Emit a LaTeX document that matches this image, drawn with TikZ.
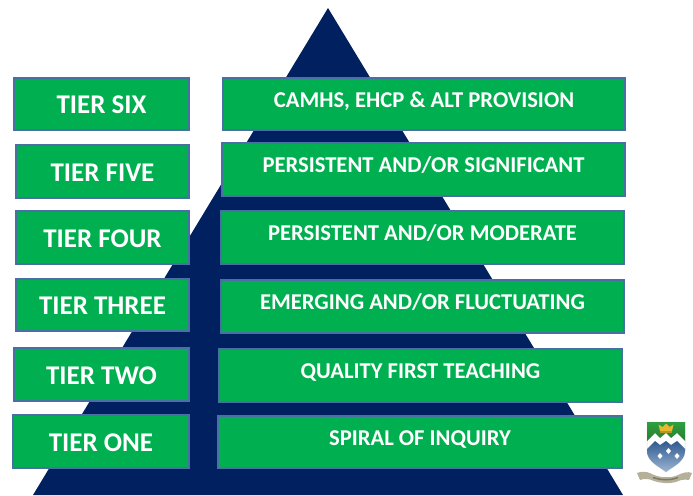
\documentclass[tikz,border=0pt]{standalone}
\usepackage{fontspec}
\setmainfont{Carlito}
\definecolor{navy}{HTML}{002060}
\definecolor{tiergreen}{HTML}{00B050}
\definecolor{tieredge}{HTML}{4A6FA5}
\definecolor{crestgreen}{HTML}{2F9E3F}
\definecolor{crestblue}{HTML}{2F5A90}
\definecolor{crestbluelight}{HTML}{9DB6D2}
\definecolor{crestgold}{HTML}{E6B82E}
\definecolor{cresttan}{HTML}{B5B09A}
\definecolor{cresttandark}{HTML}{7F7A66}
\tikzset{
  tierbox/.style={draw=tieredge,line width=2pt,fill=tiergreen,inner sep=0pt,text=white,font=\bfseries},
  leftbox/.style={tierbox,font=\fontsize{27}{27}\bfseries\selectfont},
  rightbox/.style={tierbox,font=\fontsize{22.6}{22.6}\bfseries\selectfont},
}
\newcommand{\boxat}[7]{%
  \node[#6,minimum width=#4pt-#2pt-1pt,minimum height=#5pt-#3pt-1pt,anchor=north west] (#1) at (#2,#3) {#7};}
\newcommand{\lefttxt}[1]{\raisebox{-9.5pt}[0pt][0pt]{#1}}
\newcommand{\righttxt}[1]{\raisebox{-3pt}[0pt][0pt]{#1}}
\begin{document}
\begin{tikzpicture}[x=1pt,y=-1pt]
\useasboundingbox (0,0) rectangle (693,495);
\fill[white] (0,0) rectangle (693,495);
\coordinate (apex) at (328,8);
\coordinate (bl) at (33,495);
\coordinate (br) at (623,495);
\fill[navy] (apex) -- (bl) -- (br) -- cycle;
\boxat{l6}{13}{77}{189}{130}{leftbox}{\lefttxt{TIER SIX}}
\boxat{l5}{15}{144}{189}{198}{leftbox}{\lefttxt{TIER FIVE}}
\boxat{l4}{15}{210}{189}{264}{leftbox}{\lefttxt{TIER FOUR}}
\boxat{l3}{15}{278}{189}{331}{leftbox}{\lefttxt{TIER THREE}}
\boxat{l2}{13}{347}{189}{401}{leftbox}{\lefttxt{TIER TWO}}
\boxat{l1}{12}{414}{189}{468}{leftbox}{\lefttxt{TIER ONE}}
\boxat{r6}{222}{77}{625}{130}{rightbox}{\righttxt{CAMHS, EHCP \& ALT PROVISION}}
\boxat{r5}{221}{142}{625}{196}{rightbox}{\righttxt{PERSISTENT AND/OR SIGNIFICANT}}
\boxat{r4}{220}{210}{624}{264}{rightbox}{\righttxt{PERSISTENT AND/OR MODERATE}}
\boxat{r3}{220}{279}{624}{333}{rightbox}{\righttxt{EMERGING AND/OR FLUCTUATING}}
\boxat{r2}{218}{348}{622}{402}{rightbox}{\righttxt{QUALITY FIRST TEACHING}}
\boxat{r1}{217}{415}{622}{468}{rightbox}{\righttxt{SPIRAL OF INQUIRY}}
% crest
\path[draw=black!15,line width=.5pt,fill=white] (647,422) -- (685,422) -- (685,450) .. controls (685,462) and (672,467) .. (666,472) .. controls (660,467) and (647,462) .. (647,450) -- cycle;
\shade[top color=crestgreen,bottom color=crestgreen!80!black] (647,422) -- (685,422) -- (685,441) -- (677,433) -- (671,438) -- (666,433) -- (660,438) -- (655,433) -- (647,441) -- cycle;
\shade[top color=crestblue,bottom color=crestbluelight] (647,449) -- (655,441) -- (660,445) -- (666,441) -- (671,445) -- (677,441) -- (685,449) -- (685,451) .. controls (685,462) and (672,467) .. (666,472) .. controls (660,467) and (647,462) .. (647,451) -- cycle;
\fill[crestgold] (660,431) -- (658.5,424.5) -- (662.5,427) -- (666,423.5) -- (669.5,427) -- (673.5,424.5) -- (672,431) -- cycle;
\fill[crestgold!80!black] (660,431) rectangle (672,433);
\foreach \cx/\cy in {668.5/451,660/456,677/456}{
  \fill[white] (\cx-2.5,\cy) -- (\cx,\cy-3) -- (\cx+2.5,\cy) -- (\cx,\cy+3) -- cycle;
}
\fill[cresttan] (637,473) .. controls (645,470) and (650,473) .. (654,475) .. controls (662,478) and (672,478) .. (678,475) .. controls (682,473) and (688,471) .. (692,473) -- (689,480) .. controls (684,479) and (680,480) .. (676,482) .. controls (668,484) and (660,483) .. (654,481) .. controls (650,479) and (645,478) .. (640,480) -- cycle;
\draw[cresttandark,line width=1.5pt] (653,477.5) .. controls (662,480.5) and (670,480.5) .. (678,477.5);
\end{tikzpicture}
\end{document}
